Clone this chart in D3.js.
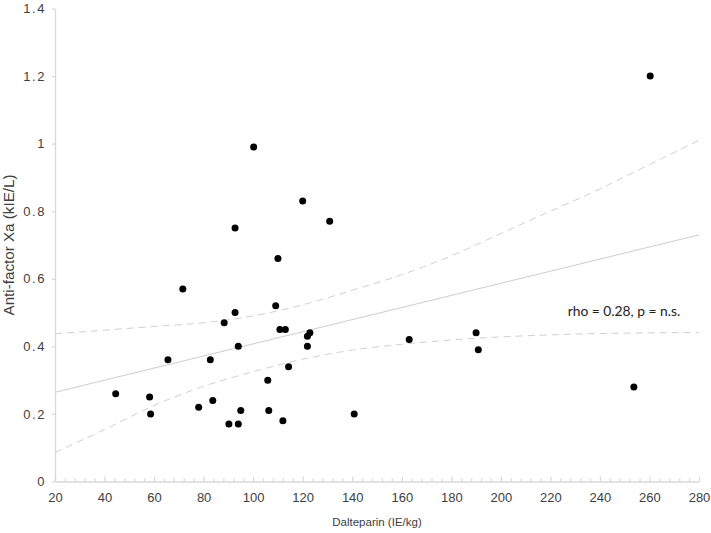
<!DOCTYPE html>
<html>
<head>
<meta charset="utf-8">
<title>Anti-factor Xa vs Dalteparin</title>
<script src="https://d3js.org/d3.v7.min.js"></script>
<style>
  body { margin: 0; background: #fff; }
  svg { display: block; font-family: "Liberation Sans", Arial, sans-serif; }
  .axis path, .axis line { stroke: #d9d9d9; stroke-width: 1.3px; }
  .axis text { fill: #404040; font-size: 13px; font-family: "Liberation Sans", Arial, sans-serif; }
  .band { fill: none; stroke: #d0d0d0; stroke-width: 1px; stroke-dasharray: 7,5; }
  .fit { fill: none; stroke: #cdcdcd; stroke-width: 1px; }
  .title { fill: #404040; }
</style>
</head>
<body>
<svg id="chart" width="711" height="533"></svg>
<script>
// measured values
var dalteparin = [44.5, 58.2, 58.6, 65.6, 71.6, 78.0, 82.7, 83.7, 88.3, 90.2,
                  92.7, 92.7, 94.0, 94.0, 95.0, 100.2, 105.9, 106.3, 109.1, 110.0,
                  110.8, 112.0, 113.0, 114.3, 120.0, 121.9, 121.9, 122.9, 130.9, 140.8,
                  163.0, 190.0, 190.9, 253.7, 260.3];
var antiXa = [0.26, 0.25, 0.20, 0.36, 0.57, 0.22, 0.36, 0.24, 0.47, 0.17,
              0.75, 0.50, 0.40, 0.17, 0.21, 0.99, 0.30, 0.21, 0.52, 0.66,
              0.45, 0.18, 0.45, 0.34, 0.83, 0.43, 0.40, 0.44, 0.77, 0.20,
              0.42, 0.44, 0.39, 0.28, 1.20];

// fitted line + confidence band
var fitX = [20, 280];
var fitY = [0.264, 0.730];
var bandX = [20, 40, 60, 80, 100, 120, 140, 160, 180, 200, 220, 240, 260, 280];
var bandUpper = [0.437, 0.448, 0.459, 0.470, 0.490, 0.523, 0.566, 0.612, 0.668, 0.734, 0.800, 0.866, 0.938, 1.010];
var bandLower = [0.086, 0.154, 0.225, 0.282, 0.325, 0.362, 0.389, 0.406, 0.419, 0.428, 0.434, 0.438, 0.440, 0.441];

var xTicks = [20, 40, 60, 80, 100, 120, 140, 160, 180, 200, 220, 240, 260, 280];
var yTicks = [0, 0.2, 0.4, 0.6, 0.8, 1, 1.2, 1.4];
var yTickLabels = ["0", "0.2", "0.4", "0.6", "0.8", "1", "1.2", "1.4"];
var xTitle = "Dalteparin (IE/kg)";
var yTitle = "Anti-factor Xa (kIE/L)";
var note = "rho = 0.28, p = n.s.";
var notePos = [227, 0.49];

(function() {
    var svg = d3.select("#chart");
    var mLeft = 55, mRight = 699, mTop = 8.5, mBottom = 481.5;

    var x = d3.scaleLinear().domain([20, 280]).range([mLeft, mRight]);
    var y = d3.scaleLinear().domain([0, 1.4]).range([mBottom, mTop]);

    // minor ticks on x, every 4 units
    var minor = d3.range(20, 281, 4).filter(function(v) { return xTicks.indexOf(v) < 0; });
    svg.append("g")
        .attr("class", "axis")
        .attr("transform", "translate(0," + mBottom + ")")
        .call(d3.axisBottom(x).tickValues(minor).tickSize(-3).tickFormat(""))
        .select(".domain").remove();

    svg.append("g")
        .attr("class", "axis")
        .attr("transform", "translate(0," + mBottom + ")")
        .call(d3.axisBottom(x).tickValues(xTicks).tickSize(-5).tickSizeOuter(0).tickPadding(11.5));

    svg.append("g")
        .attr("class", "axis yaxis")
        .attr("transform", "translate(" + mLeft + ",0)")
        .call(d3.axisLeft(y).tickValues(yTicks).tickSize(3).tickSizeOuter(0).tickPadding(6)
            .tickFormat(function(d, i) { return yTickLabels[i]; }));
    svg.selectAll(".yaxis text").attr("letter-spacing", "1.6px");

    // confidence band
    var band = d3.line()
        .x(function(d) { return x(d[0]); })
        .y(function(d) { return y(d[1]); })
        .curve(d3.curveMonotoneX);

    svg.append("path")
        .attr("class", "band")
        .attr("d", band(d3.zip(bandX, bandUpper)));
    svg.append("path")
        .attr("class", "band")
        .attr("d", band(d3.zip(bandX, bandLower)));

    svg.append("path")
        .attr("class", "fit")
        .attr("d", band.curve(d3.curveLinear)(d3.zip(fitX, fitY)));

    // dots
    svg.append("g")
        .selectAll("circle")
        .data(d3.zip(dalteparin, antiXa))
        .enter().append("circle")
        .attr("cx", function(d) { return x(d[0]); })
        .attr("cy", function(d) { return y(d[1]); })
        .attr("r", 3.5)
        .attr("fill", "#000");

    svg.append("text")
        .attr("x", x(notePos[0]))
        .attr("y", y(notePos[1]))
        .attr("font-family", "Lato, 'Open Sans', sans-serif")
        .attr("font-size", "13.8px")
        .attr("fill", "#222")
        .text(note);

    svg.append("text")
        .attr("class", "title")
        .attr("x", (mLeft + mRight) / 2)
        .attr("y", 526)
        .attr("text-anchor", "middle")
        .attr("font-size", "11.5px")
        .text(xTitle);

    svg.append("text")
        .attr("class", "title")
        .attr("transform", "translate(14," + (mTop + mBottom) / 2 + ") rotate(-90)")
        .attr("text-anchor", "middle")
        .attr("font-size", "15.2px")
        .text(yTitle);
})();
</script>
</body>
</html>
